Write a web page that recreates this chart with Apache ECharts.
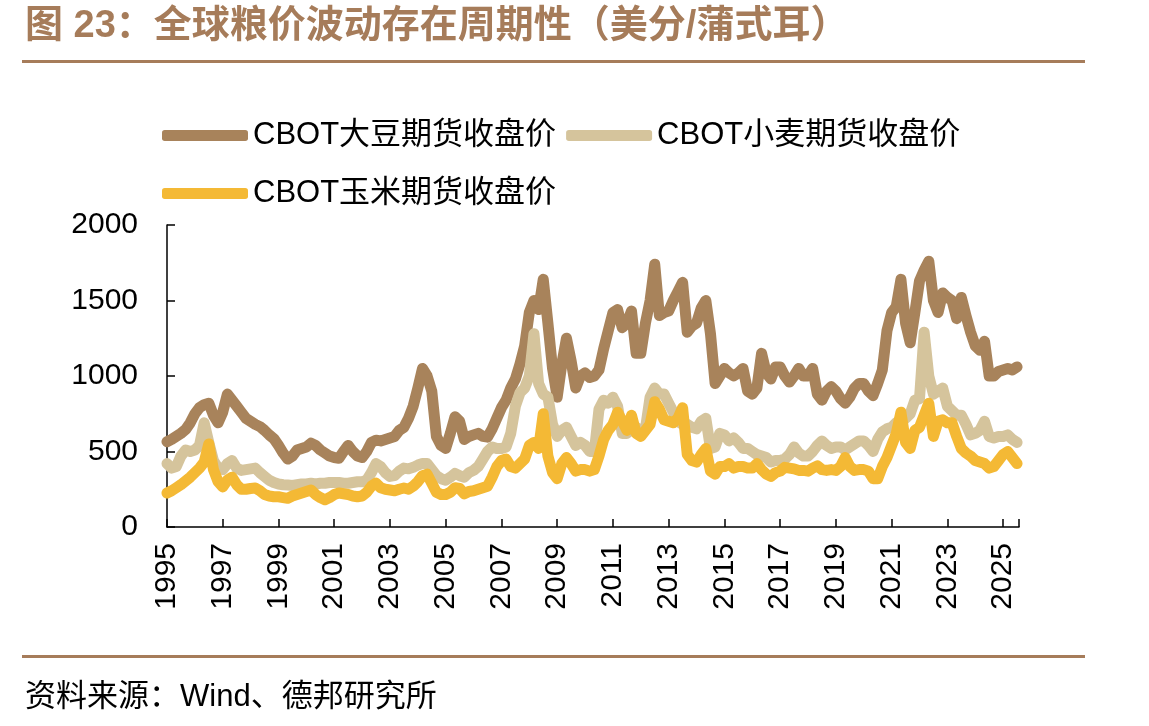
<!DOCTYPE html>
<html>
<head>
    <meta http-equiv="content-type" content="text/html;charset=utf-8" />
    <title>全球粮价</title>
    <script src="https://cdn.jsdelivr.net/npm/echarts/dist/echarts.min.js"></script>
    <style>
        body { margin: 0; background: #fff; }
    </style>
</head>
<body>
    <div id="main" style="width: 1149px;height:726px;"></div>
    <script type="text/javascript">
        // 双月数据，1995 年初起，每年 6 个点（到 2025 年中）
        var startYear = 1995;
        var pointsPerYear = 6;
        var yearLabels = ['1995','1997','1999','2001','2003','2005','2007','2009','2011','2013','2015','2017','2019','2021','2023','2025'];

        // CBOT大豆
        var soybean = [
            565, 580, 600, 620, 645, 690,      // 1995
            750, 790, 810, 820, 740, 690,      // 1996
            760, 880, 840, 800, 760, 720,      // 1997
            700, 680, 665, 640, 610, 585,      // 1998
            540, 490, 450, 470, 510, 520,      // 1999
            530, 555, 540, 510, 490, 470,      // 2000
            460, 455, 500, 540, 500, 470,      // 2001
            460, 500, 560, 575, 570, 580,      // 2002
            590, 600, 640, 660, 720, 800,      // 2003
            920, 1050, 1000, 900, 600, 540,    // 2004
            520, 620, 730, 700, 580, 600,      // 2005
            610, 620, 600, 595, 650, 720,      // 2006
            790, 840, 920, 980, 1080, 1200,    // 2007
            1420, 1500, 1440, 1640, 1350, 1050,// 2008
            860, 1080, 1250, 1100, 920, 1000,  // 2009
            1020, 990, 1000, 1040, 1180, 1300, // 2010
            1420, 1440, 1320, 1350, 1430, 1150,// 2011
            1150, 1350, 1500, 1740, 1400, 1420,// 2012
            1430, 1500, 1560, 1620, 1290, 1330,// 2013
            1350, 1450, 1500, 1280, 950, 1000, // 2014
            1050, 1020, 1000, 1020, 1050, 900, // 2015
            880, 920, 1150, 1020, 980, 1060,   // 2016
            1060, 1000, 960, 1000, 1050, 1000, // 2017
            1000, 1050, 880, 840, 900, 930,    // 2018
            900, 850, 820, 860, 920, 950,      // 2019
            950, 900, 870, 950, 1040, 1300,    // 2020
            1420, 1460, 1640, 1350, 1220, 1420,// 2021
            1630, 1700, 1760, 1500, 1420, 1550,// 2022
            1520, 1500, 1380, 1520, 1400, 1290,// 2023
            1200, 1170, 1230, 1000, 1000, 1030,// 2024
            1040, 1050, 1040, 1060             // 2025
        ];
        // CBOT小麦
        var wheat = [
            420, 390, 400, 470, 510, 500,      // 1995
            510, 540, 690, 560, 440, 390,      // 1996
            380, 420, 440, 390, 375, 380,      // 1997
            385, 390, 360, 335, 310, 295,      // 1998
            285, 280, 278, 275, 280, 285,      // 1999
            285, 290, 285, 290, 290, 295,      // 2000
            295, 295, 290, 290, 295, 300,      // 2001
            300, 310, 360, 420, 400, 360,      // 2002
            335, 340, 370, 390, 385, 395,      // 2003
            410, 420, 420, 380, 340, 320,      // 2004
            310, 330, 355, 340, 330, 360,      // 2005
            375, 400, 450, 500, 530, 520,      // 2006
            520, 530, 620, 800, 890, 920,      // 2007
            1000, 1280, 950, 880, 860, 680,    // 2008
            600, 640, 660, 600, 540, 560,      // 2009
            540, 500, 500, 780, 840, 820,      // 2010
            860, 800, 620, 620, 650, 660,      // 2011
            640, 650, 860, 920, 880, 880,      // 2012
            820, 760, 700, 680, 680, 660,      // 2013
            650, 700, 720, 520, 530, 620,      // 2014
            610, 570, 590, 560, 520, 520,      // 2015
            500, 480, 470, 460, 430, 440,      // 2016
            440, 450, 480, 530, 490, 470,      // 2017
            470, 500, 540, 570, 540, 520,      // 2018
            530, 530, 510, 530, 550, 570,      // 2019
            570, 540, 500, 580, 630, 650,      // 2020
            660, 690, 700, 720, 750, 840,      // 2021
            850, 1290, 1000, 880, 900, 920,    // 2022
            800, 770, 740, 740, 680, 610,      // 2023
            620, 640, 700, 600, 590, 600,      // 2024
            600, 610, 580, 560                 // 2025
        ];
        // CBOT玉米
        var corn = [
            225, 240, 260, 280, 305, 330,      // 1995
            360, 390, 430, 550, 380, 300,      // 1996
            265, 310, 330, 280, 250, 250,      // 1997
            255, 258, 240, 215, 205, 200,      // 1998
            200, 195, 190, 205, 215, 225,      // 1999
            235, 245, 215, 195, 180, 195,      // 2000
            215, 225, 220, 215, 205, 200,      // 2001
            205, 230, 270, 290, 260, 250,      // 2002
            245, 240, 250, 258, 250, 270,      // 2003
            300, 340, 350, 290, 230, 215,      // 2004
            215, 230, 260, 255, 220, 235,      // 2005
            240, 250, 260, 270, 330, 400,      // 2006
            440, 450, 400, 390, 420, 450,      // 2007
            540, 560, 520, 750, 470, 360,      // 2008
            320, 420, 460, 420, 370, 380,      // 2009
            380, 370, 380, 470, 580, 640,      // 2010
            680, 760, 700, 640, 740, 620,      // 2011
            600, 640, 680, 830, 780, 710,      // 2012
            700, 690, 720, 790, 480, 440,      // 2013
            430, 480, 520, 370, 350, 400,      // 2014
            400, 420, 390, 400, 400, 390,      // 2015
            390, 420, 380, 350, 335, 360,      // 2016
            370, 395, 390, 385, 375, 375,      // 2017
            370, 390, 405, 380, 375, 380,      // 2018
            375, 400, 460, 400, 375, 380,      // 2019
            380, 370, 320, 320, 400, 460,      // 2020
            540, 620, 760, 560, 520, 640,      // 2021
            660, 740, 820, 600, 700, 710,      // 2022
            690, 690, 600, 520, 490, 470,      // 2023
            440, 430, 420, 390, 400, 440,      // 2024
            480, 500, 460, 420                 // 2025
        ];

        var seriesNames = ['CBOT大豆期货收盘价', 'CBOT小麦期货收盘价', 'CBOT玉米期货收盘价'];
        var colors = ['#A8835B', '#D5C49C', '#F4B935'];
        var brown = '#A67C5A';
        var font = "'Liberation Sans', 'Noto Sans CJK SC', sans-serif";

        // x 轴用“距 1995 年的年数”，这样 interval=2 从 0 开始
        function pairs(vals) {
            var out = [];
            for (var i = 0; i < vals.length; i++) {
                out.push([i / pointsPerYear, vals[i]]);
            }
            return out;
        }

        function lineSeries(name, vals, color) {
            return {
                name: name,
                type: 'line',
                showSymbol: false,
                data: pairs(vals),
                lineStyle: { color: color, width: 11, cap: 'round', join: 'round' },
                itemStyle: { color: color }
            };
        }

        var myChart = echarts.init(document.getElementById('main'));
        var option = {
            animation: false,
            title: [{
                text: '图 23：全球粮价波动存在周期性（美分/蒲式耳）',
                left: 20, top: 3,
                textStyle: { color: brown, fontSize: 38, fontWeight: 'bold', fontFamily: font }
            }, {
                text: '资料来源：Wind、德邦研究所',
                left: 20, top: 677,
                textStyle: { color: '#000', fontSize: 31, fontWeight: 'normal', fontFamily: font }
            }],
            graphic: [
                { type: 'rect', shape: { x: 22, y: 60, width: 1063, height: 3 }, style: { fill: brown } },
                { type: 'rect', shape: { x: 22, y: 655, width: 1063, height: 3 }, style: { fill: brown } }
            ],
            legend: [{
                data: [seriesNames[0], seriesNames[1]],
                left: 157, top: 115,
                itemWidth: 86, itemHeight: 11, itemGap: 10,
                icon: 'roundRect',
                textStyle: { fontSize: 31, color: '#000', fontFamily: font }
            }, {
                data: [seriesNames[2]],
                left: 157, top: 173,
                itemWidth: 86, itemHeight: 11,
                icon: 'roundRect',
                textStyle: { fontSize: 31, color: '#000', fontFamily: font }
            }],
            grid: { left: 167, right: 130, top: 225, bottom: 199, containLabel: false },
            xAxis: {
                type: 'value',
                min: 0,
                max: 30.57,
                interval: 2,
                splitLine: { show: false },
                axisLine: { lineStyle: { color: '#000', width: 1.5 } },
                axisTick: { inside: true, length: 8, lineStyle: { color: '#000', width: 1.5 } },
                axisLabel: {
                    rotate: 90,
                    margin: 16,
                    color: '#000',
                    fontSize: 30,
                    fontFamily: font,
                    formatter: function (v) {
                        return v % 2 === 0 ? yearLabels[v / 2] : '';
                    }
                }
            },
            yAxis: {
                type: 'value',
                min: 0,
                max: 2000,
                interval: 500,
                splitLine: { show: false },
                axisLine: { show: true, lineStyle: { color: '#000', width: 1.5 } },
                axisTick: { show: true, inside: true, length: 8, lineStyle: { color: '#000', width: 1.5 } },
                axisLabel: {
                    margin: 29, color: '#000', fontSize: 30, fontFamily: font,
                    formatter: function (v) { return String(v); }
                }
            },
            series: [
                lineSeries(seriesNames[0], soybean, colors[0]),
                lineSeries(seriesNames[1], wheat, colors[1]),
                lineSeries(seriesNames[2], corn, colors[2])
            ]
        };

        myChart.setOption(option);
    </script>
</body>
</html>
